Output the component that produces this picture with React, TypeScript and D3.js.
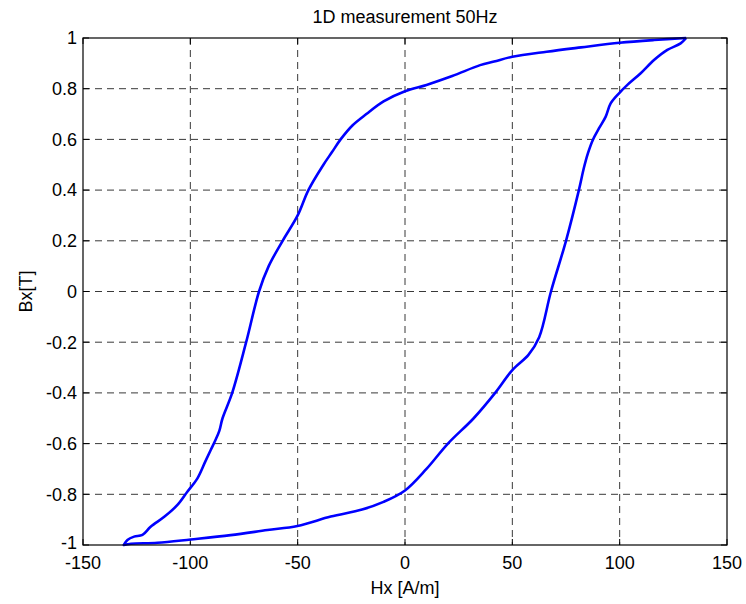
import React from "react";
import * as d3 from "d3";

// descending branch: from positive saturation down to negative saturation
const descH = [131, 116, 100, 82, 66, 50, 41.5, 35, 22, 10, 0, -10, -18, -24.5, -30, -34, -38, -45, -50, -57, -63.5, -68, -74, -80.5, -85, -86.5, -88.5, -90.5, -93, -96.7, -101.4, -106, -112, -118.5, -122.3, -126.2, -129.3, -131];
const descB = [1.0, 0.992, 0.981, 0.963, 0.946, 0.926, 0.907, 0.893, 0.85, 0.815, 0.79, 0.75, 0.7, 0.655, 0.6, 0.55, 0.5, 0.4, 0.3, 0.2, 0.1, 0.0, -0.2, -0.4, -0.5, -0.55, -0.59, -0.625, -0.67, -0.737, -0.79, -0.842, -0.888, -0.928, -0.96, -0.967, -0.98, -1.0];

// ascending branch: from negative saturation back up
const ascH = [-131, -127.6, -115.3, -99.8, -81.2, -64.1, -50.1, -34.6, -20, -10, 0, 10, 20, 32, 42, 50, 57.5, 62.5, 68, 75, 81, 83.4, 85.2, 87.5, 90.4, 93.5, 95.8, 99.7, 103.6, 109.8, 116, 122.2, 128.4, 131];
const ascB = [-1.0, -0.995, -0.991, -0.978, -0.961, -0.941, -0.925, -0.888, -0.86, -0.83, -0.785, -0.7, -0.6, -0.5, -0.4, -0.31, -0.25, -0.18, 0.0, 0.2, 0.4, 0.49, 0.545, 0.598, 0.644, 0.69, 0.742, 0.782, 0.815, 0.861, 0.913, 0.953, 0.979, 1.0];

const xTicks = [-150, -100, -50, 0, 50, 100, 150];
const yTicks = [-1, -0.8, -0.6, -0.4, -0.2, 0, 0.2, 0.4, 0.6, 0.8, 1];

const W = 746;
const H = 604;
const left = 83;
const right = 727;
const top = 38;
const bottom = 545;
const font = "'Liberation Sans', Arial, Helvetica, sans-serif";
const fs = 18;
const tickLen = 6;

export default function App() {
  const x = d3.scaleLinear().domain([-150, 150]).range([left, right]);
  const y = d3.scaleLinear().domain([-1, 1]).range([bottom, top]);

  const pts: [number, number][] = [
    ...descH.map((h, i) => [h, descB[i]] as [number, number]),
    ...ascH.map((h, i) => [h, ascB[i]] as [number, number]),
  ];
  const line = d3
    .line<[number, number]>()
    .x((d) => x(d[0]))
    .y((d) => y(d[1]))
    .curve(d3.curveCatmullRom.alpha(0.5));

  return (
    <svg
      width={W}
      height={H}
      style={{ position: "absolute", left: 0, top: 0, background: "#fff" }}
      fontFamily={font}
    >
      <rect x={0} y={0} width={W} height={H} fill="#fff" />
      {/* grid */}
      {xTicks.slice(1, -1).map((t) => (
        <line key={"gx" + t} x1={x(t)} x2={x(t)} y1={top} y2={bottom} stroke="#222" strokeWidth={0.9} strokeDasharray="7,5" />
      ))}
      {yTicks.slice(1, -1).map((t) => (
        <line key={"gy" + t} x1={left} x2={right} y1={y(t)} y2={y(t)} stroke="#222" strokeWidth={0.9} strokeDasharray="7,5" />
      ))}
      {/* ticks on all sides, inward */}
      {xTicks.map((t) => (
        <g key={"tx" + t}>
          <line x1={x(t)} x2={x(t)} y1={bottom} y2={bottom - tickLen} stroke="#000" />
          <line x1={x(t)} x2={x(t)} y1={top} y2={top + tickLen} stroke="#000" />
          <text x={x(t)} y={569} textAnchor="middle" fontSize={fs} fill="#000">
            {t}
          </text>
        </g>
      ))}
      {yTicks.map((t) => (
        <g key={"ty" + t}>
          <line x1={left} x2={left + tickLen} y1={y(t)} y2={y(t)} stroke="#000" />
          <line x1={right} x2={right - tickLen} y1={y(t)} y2={y(t)} stroke="#000" />
          {/* bottom label sits a touch higher so it clears the -150 below it */}
          <text x={77} y={y(t) - (t === -1 ? 2.5 : 0)} dy="0.35em" textAnchor="end" fontSize={fs} fill="#000">
            {t}
          </text>
        </g>
      ))}
      {/* curve */}
      <path d={line(pts) || ""} fill="none" stroke="#0000ff" strokeWidth={2.6} strokeLinejoin="round" />
      {/* box */}
      <rect x={left} y={top} width={right - left} height={bottom - top} fill="none" stroke="#000" strokeWidth={1.2} />
      {/* labels */}
      <text x={(left + right) / 2} y={23} textAnchor="middle" fontSize={fs} fill="#000">
        1D measurement 50Hz
      </text>
      <text x={(left + right) / 2} y={594} textAnchor="middle" fontSize={fs} fill="#000">
        Hx [A/m]
      </text>
      <text transform={`translate(32, ${(top + bottom) / 2}) rotate(-90)`} textAnchor="middle" fontSize={fs} fill="#000">
        Bx[T]
      </text>
    </svg>
  );
}
